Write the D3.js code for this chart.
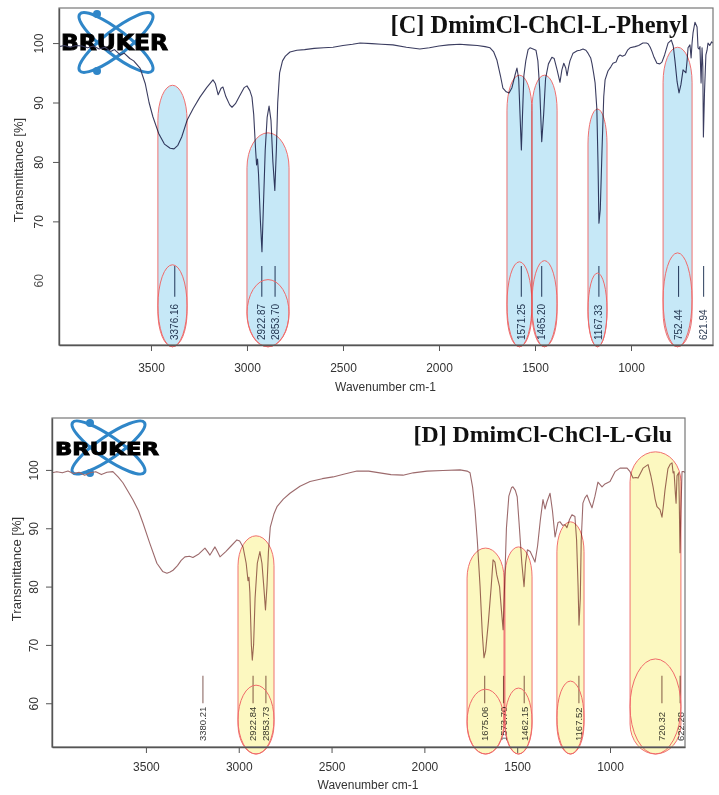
<!DOCTYPE html>
<html><head><meta charset="utf-8">
<script src="https://cdn.jsdelivr.net/npm/d3@7"></script>
<style>
body{margin:0;background:#fff}
svg{display:block;isolation:isolate;background:#fff}
</style></head><body>
<svg id="c" width="719" height="795"></svg>
<script>
// ---------- DATA ----------
// Panel C spectrum: [wavenumber cm-1, transmittance %]
const specC = [[3979,99.4],[3950,99.6],[3920,99.3],[3890,99.6],[3860,99.5],[3830,99.2],[3800,99.5],[3770,99.0],[3740,99.3],[3710,98.6],[3690,98.9],[3660,98.0],[3640,98.3],[3610,97.4],[3590,97.0],[3557,95.8],[3530,93.2],[3510,90.0],[3490,87.6],[3460,84.8],[3430,83.0],[3400,82.3],[3380,82.2],[3360,82.8],[3340,84.2],[3312,87.0],[3280,89.0],[3245,90.9],[3210,92.5],[3177,93.8],[3165,93.2],[3150,91.3],[3135,92.4],[3125,92.6],[3110,91.0],[3090,89.6],[3078,89.2],[3060,89.8],[3040,91.0],[3015,92.5],[3000,92.8],[2985,92.0],[2974,90.9],[2965,88.0],[2955,82.0],[2950,79.5],[2945,80.5],[2940,78.0],[2930,70.0],[2922,64.9],[2915,72.0],[2905,82.0],[2895,87.5],[2885,89.4],[2875,87.0],[2865,80.0],[2855,75.2],[2847,82.0],[2840,90.0],[2830,95.0],[2815,97.0],[2800,97.8],[2776,98.5],[2740,98.8],[2700,98.9],[2650,99.1],[2600,99.2],[2552,99.3],[2500,99.6],[2450,99.8],[2411,100.0],[2350,99.9],[2300,99.8],[2240,99.7],[2170,99.3],[2100,99.0],[2050,99.2],[2000,99.5],[1950,99.7],[1891,99.8],[1850,99.7],[1800,99.6],[1760,99.4],[1734,99.2],[1715,98.5],[1698,97.1],[1680,94.5],[1667,92.4],[1650,91.8],[1635,91.6],[1620,92.5],[1605,94.5],[1594,95.8],[1585,94.0],[1578,88.0],[1571,82.0],[1565,88.0],[1558,94.5],[1548,97.0],[1536,98.9],[1526,99.2],[1510,99.0],[1495,98.8],[1485,97.0],[1475,92.0],[1465,83.4],[1455,88.0],[1445,94.0],[1430,96.5],[1412,97.6],[1400,97.4],[1385,95.5],[1370,93.4],[1360,95.5],[1350,96.6],[1340,95.8],[1333,94.5],[1325,96.0],[1318,97.0],[1302,98.3],[1280,98.7],[1266,98.8],[1250,99.0],[1235,98.8],[1224,98.3],[1210,97.5],[1203,96.5],[1195,95.0],[1187,93.3],[1178,89.0],[1172,80.0],[1167,69.7],[1160,72.0],[1151,82.0],[1142,91.0],[1135,93.8],[1120,95.3],[1105,96.0],[1094,96.6],[1078,96.8],[1067,97.7],[1057,98.0],[1045,97.8],[1031,98.0],[1018,98.8],[1005,99.2],[979,99.4],[960,99.6],[938,100.0],[920,100.0],[911,99.9],[900,99.3],[891,98.6],[880,97.6],[865,96.6],[850,96.5],[839,96.8],[825,98.0],[807,100.0],[790,100.5],[780,99.5],[771,97.0],[760,93.5],[750,91.6],[740,93.0],[729,95.5],[720,95.2],[714,95.0],[708,97.0],[703,99.2],[693,99.7],[687,97.5],[682,100.0],[677,101.7],[667,103.5],[660,103.0],[656,102.7],[651,99.2],[645,99.0],[641,99.4],[635,93.3],[630,99.2],[626,96.0],[623,84.2],[617,92.0],[610,98.0],[604,98.8],[599,100.0],[590,99.6],[580,100.2],[573,100.0]];

// Panel D spectrum
const specD = [[4006,99.5],[3980,99.7],[3950,99.5],[3920,99.8],[3890,99.4],[3860,99.6],[3830,99.1],[3800,99.5],[3770,99.7],[3740,99.2],[3710,99.6],[3678,99.7],[3650,98.8],[3624,97.8],[3600,96.5],[3570,94.9],[3540,93.0],[3516,90.9],[3480,87.5],[3441,84.0],[3410,82.6],[3387,82.3],[3370,82.5],[3354,82.8],[3330,83.6],[3310,84.5],[3290,85.1],[3265,85.2],[3247,85.0],[3215,85.6],[3182,86.6],[3168,86.0],[3155,85.4],[3140,86.2],[3128,86.8],[3115,86.0],[3101,85.1],[3070,86.0],[3040,87.0],[3010,88.0],[2995,87.8],[2977,86.8],[2960,84.0],[2950,81.0],[2945,81.6],[2940,79.0],[2932,70.0],[2927,67.4],[2920,70.0],[2912,78.0],[2900,84.0],[2886,86.0],[2875,84.0],[2865,80.0],[2856,76.0],[2848,80.0],[2840,86.0],[2830,90.2],[2810,92.5],[2794,93.7],[2760,95.0],[2724,96.0],[2670,97.2],[2616,98.0],[2550,98.5],[2492,98.8],[2430,99.3],[2363,99.8],[2300,99.8],[2240,99.5],[2180,99.2],[2115,99.1],[2060,99.5],[1986,99.8],[1900,99.9],[1808,100.0],[1770,99.8],[1754,99.5],[1740,97.0],[1727,93.1],[1715,88.0],[1700,80.0],[1688,72.0],[1679,67.8],[1670,69.0],[1655,74.0],[1640,80.0],[1630,84.6],[1620,84.2],[1610,82.0],[1595,80.0],[1585,76.0],[1576,72.6],[1568,80.0],[1558,90.0],[1545,95.5],[1530,97.0],[1523,97.1],[1510,96.5],[1500,95.4],[1490,91.0],[1475,84.0],[1463,80.0],[1455,84.0],[1445,86.3],[1430,86.0],[1415,85.0],[1404,84.2],[1390,87.0],[1375,91.5],[1361,94.9],[1350,93.3],[1340,94.5],[1323,96.0],[1310,93.0],[1296,88.5],[1280,91.0],[1269,91.1],[1255,90.5],[1242,90.6],[1232,90.1],[1218,91.5],[1205,92.3],[1189,92.0],[1180,88.0],[1172,80.0],[1167,73.4],[1160,78.0],[1155,88.0],[1146,94.3],[1135,95.2],[1124,95.7],[1110,94.5],[1097,93.5],[1081,95.5],[1065,97.9],[1043,97.1],[1027,97.6],[1000,98.0],[973,99.7],[946,100.3],[908,100.3],[892,99.7],[876,98.6],[860,98.7],[849,98.6],[822,100.3],[795,100.9],[780,99.0],[768,97.1],[757,95.0],[747,93.7],[731,93.2],[725,92.5],[720,91.9],[712,94.0],[704,96.5],[688,100.2],[675,101.0],[666,101.2],[660,99.5],[655,99.7],[648,96.0],[644,94.3],[639,99.0],[630,99.5],[627,95.0],[623,85.8],[618,93.0],[612,99.7],[601,99.7],[596,99.5]];

const xTicks = [3500, 3000, 2500, 2000, 1500, 1000];
const yTicksC = [70, 80, 90, 100];
const yTicksD = [60, 70, 80, 90, 100];

const titleC = "[C] DmimCl-ChCl-L-Phenyl";
const titleD = "[D] DmimCl-ChCl-L-Glu";

// peak markers
const peakPosC = [3376.16, 2922.87, 2853.70, 1571.25, 1465.20, 1167.33, 752.44, 621.94];
const peakLabC = ["3376.16","2922.87","2853.70","1571.25","1465.20","1167.33","752.44","621.94"];
const peakPosD = [3193, 2922.84, 2853.73, 1675.06, 1573.70, 1462.15, 1167.52, 720.32, 622.28];
const peakLabD = ["3380.21","2922.84","2853.73","1675.06","1573.70","1462.15","1167.52","720.32","622.28"];

// highlighted bands: wavenumber from/to, band top (%), label-ellipse top (%)
const bandFromC = [3464, 3000, 1646, 1516, 1224, 833];
const bandToC   = [3312, 2781, 1516, 1385, 1125, 682];
const bandTopC  = [92.9, 84.9, 94.6, 94.6, 88.9, 99.3];
const ovalTopC  = [62.7, 60.2, 63.2, 63.4, 61.3, 64.7];

const bandFromD = [3004, 1770, 1566, 1286, 892];
const bandToD   = [2810, 1571, 1420, 1140, 618];
const bandTopD  = [88.7, 86.6, 86.8, 91.1, 103.1];
const ovalTopD  = [63.1, 62.4, 62.6, 63.8, 67.6];

// ---------- DRAW ----------
const svg = d3.select("#c");

const panels = [
  {spec: specC, xDom:[3979,573], xR:[59,713], yDom:[49.2,105.9], yR:[345,8],
   yTicks: yTicksC, extraY: 60, title: titleC, titleX: 688, titleY: 33, titleSize: 24.4,
   peakPos: peakPosC, peakLab: peakLabC, peakT:[62.5,57.3], labBase: 340, labSize: 10,
   bandFrom: bandFromC, bandTo: bandToC, bandTop: bandTopC, ovalTop: ovalTopC, bandBot: 48.9, bandRy: 35,
   lineCol:"#3b3d60", peakCol:"#3d4d6a", labCol:"#2e3d55", fill:"#c6e8f7",
   ytLabX:-16.5, yTitleX: 22.5, yTitleY: 170, xTitleX: 385.5, xTitleY: 391, tickLabY: 372,
   logo:{cx:116, cy:42.5, a:46, b:12, ang:38, dots:[[-19,-28.5],[-19,28.5]], tx:61, tw:107, ty:50, ts:20.5}},
  {spec: specD, xDom:[4006,596], xR:[52,685], yDom:[52.5,108.9], yR:[747,418],
   yTicks: yTicksD, extraY: null, title: titleD, titleX: 672, titleY: 442, titleSize: 23.8,
   peakPos: peakPosD, peakLab: peakLabD, peakT:[64.7,60.0], labBase: 741, labSize: 9.5,
   bandFrom: bandFromD, bandTo: bandToD, bandTop: bandTopD, ovalTop: ovalTopD, bandBot: 51.3, bandRy: 30,
   lineCol:"#9c6a6c", peakCol:"#8e6a66", labCol:"#3a3a3a", fill:"#fcf8c0",
   ytLabX:-14.5, yTitleX: 20.5, yTitleY: 569, xTitleX: 368, xTitleY: 789, tickLabY: 771,
   logo:{cx:108.5, cy:447.5, a:43.7, b:11, ang:34.7, dots:[[-18.5,-24.5],[-18.5,25.5]], tx:55, tw:104, ty:454.5, ts:17.5}}
];

panels.forEach((p, i) => {
  const x = d3.scaleLinear().domain(p.xDom).range(p.xR);
  const y = d3.scaleLinear().domain(p.yDom).range(p.yR);
  const g = svg.append("g");
  const [x0, x1] = p.xR, [y1, y0] = p.yR;

  g.append("clipPath").attr("id", "clip" + i)
    .append("rect").attr("x", x0).attr("y", y0).attr("width", x1 - x0).attr("height", y1 - y0);

  // logo
  const L = p.logo;
  const lg = g.append("g").attr("transform", `translate(${L.cx},${L.cy})`);
  [L.ang, -L.ang].forEach(a => {
    lg.append("ellipse").attr("rx", L.a).attr("ry", L.b).attr("transform", `rotate(${a})`)
      .attr("fill", "none").attr("stroke", "#2f86c8").attr("stroke-width", 3);
  });
  L.dots.forEach(d => lg.append("circle").attr("cx", d[0]).attr("cy", d[1]).attr("r", 4).attr("fill", "#2f86c8"));
  g.append("text").attr("x", L.tx).attr("y", L.ty).text("BRUKER")
    .attr("font-family", "DejaVu Sans").attr("font-weight", "bold").attr("font-size", L.ts)
    .attr("textLength", L.tw).attr("lengthAdjust", "spacingAndGlyphs").attr("fill", "#000")
    .attr("stroke", "#000").attr("stroke-width", 0.9);

  // spectrum line
  g.append("path").datum(p.spec)
    .attr("clip-path", `url(#clip${i})`)
    .attr("d", d3.line().x(d => x(d[0])).y(d => y(d[1])))
    .attr("fill", "none").attr("stroke", p.lineCol).attr("stroke-width", 1.1).attr("stroke-linejoin", "round");

  // peak markers
  p.peakPos.forEach((w, k) => {
    g.append("line").attr("x1", x(w)).attr("x2", x(w)).attr("y1", y(p.peakT[0])).attr("y2", y(p.peakT[1]))
      .attr("stroke", p.peakCol).attr("stroke-width", 1.1);
    g.append("text").attr("transform", `translate(${x(w)},${p.labBase}) rotate(-90)`)
      .attr("dy", "0.36em").attr("text-anchor", "start")
      .attr("font-family", "Liberation Sans, Arial, sans-serif").attr("font-size", p.labSize)
      .attr("fill", p.labCol).text(p.peakLab[k]);
  });

  // highlight bands (multiplied over the trace)
  p.bandFrom.forEach((w, k) => {
    const bx0 = x(w), bx1 = x(p.bandTo[k]);
    const by0 = y(p.bandTop[k]), by1 = y(p.bandBot);
    g.append("rect").attr("x", bx0).attr("y", by0).attr("width", bx1 - bx0).attr("height", by1 - by0)
      .attr("rx", (bx1 - bx0) / 2).attr("ry", p.bandRy)
      .attr("fill", p.fill).attr("stroke", "#f07070").attr("stroke-width", 1)
      .style("mix-blend-mode", "multiply");
    const oy0 = y(p.ovalTop[k]);
    g.append("ellipse").attr("cx", (bx0 + bx1) / 2).attr("cy", (oy0 + by1) / 2)
      .attr("rx", (bx1 - bx0) / 2).attr("ry", (by1 - oy0) / 2)
      .attr("fill", "none").attr("stroke", "#f06a6a").attr("stroke-width", 1);
  });

  // frame
  g.append("rect").attr("x", x0).attr("y", y0).attr("width", x1 - x0).attr("height", y1 - y0)
    .attr("fill", "none").attr("stroke", "#777").attr("stroke-width", 1.2);

  // x axis
  const xa = g.append("g").attr("transform", `translate(0,${y1})`)
    .call(d3.axisBottom(x).tickValues(xTicks).tickSize(6).tickSizeOuter(0).tickPadding(3).tickFormat(d3.format("d")));
  xa.select(".domain").attr("stroke", "#555").attr("stroke-width", 1.4);
  xa.selectAll(".tick line").attr("stroke", "#555");
  xa.selectAll("text").attr("y", p.tickLabY - y1).attr("dy", 0)
    .attr("font-family", "Liberation Sans, Arial, sans-serif").attr("font-size", 12).attr("fill", "#333");

  // y axis
  const ya = g.append("g").attr("transform", `translate(${x0},0)`)
    .call(d3.axisLeft(y).tickValues(p.yTicks).tickSize(6).tickSizeOuter(0).tickFormat(d3.format("d")));
  ya.select(".domain").attr("stroke", "#555").attr("stroke-width", 1.4);
  ya.selectAll(".tick line").attr("stroke", "#555");
  ya.selectAll("text").attr("x", 0).attr("y", p.ytLabX).attr("dy", 0)
    .attr("text-anchor", "middle").attr("transform", "rotate(-90)")
    .attr("font-family", "Liberation Sans, Arial, sans-serif").attr("font-size", 12).attr("fill", "#333");
  if (p.extraY !== null) {
    g.append("text").attr("transform", `translate(${x0 + p.ytLabX},${y(p.extraY)}) rotate(-90)`)
      .attr("text-anchor", "middle")
      .attr("font-family", "Liberation Sans, Arial, sans-serif").attr("font-size", 12).attr("fill", "#555")
      .text(String(p.extraY));
  }

  // axis titles
  g.append("text").attr("x", p.xTitleX).attr("y", p.xTitleY).attr("text-anchor", "middle")
    .attr("font-family", "Liberation Sans, Arial, sans-serif").attr("font-size", 12).attr("fill", "#333")
    .text("Wavenumber cm-1");
  g.append("text").attr("transform", `translate(${p.yTitleX},${p.yTitleY}) rotate(-90)`)
    .attr("text-anchor", "middle")
    .attr("font-family", "Liberation Sans, Arial, sans-serif").attr("font-size", 13).attr("fill", "#333")
    .text("Transmittance [%]");

  // title
  g.append("text").attr("x", p.titleX).attr("y", p.titleY).attr("text-anchor", "end")
    .attr("font-family", "Liberation Serif, Times New Roman, serif").attr("font-weight", "bold")
    .attr("font-size", p.titleSize).attr("fill", "#111").text(p.title);
});
</script>
</body></html>
